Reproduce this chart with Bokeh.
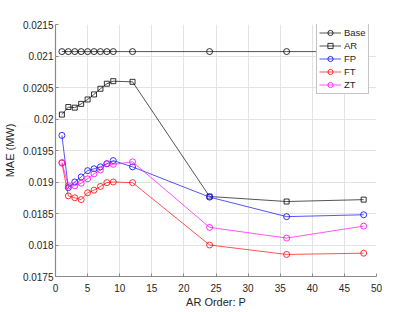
from bokeh.plotting import figure
from bokeh.models import FixedTicker, CustomJSTickFormatter, Range1d, Legend, LegendItem
from bokeh.embed import file_html
from bokeh.resources import INLINE

# ---- data ----
P = [1, 2, 3, 4, 5, 6, 7, 8, 9, 12, 24, 36, 48]
base = [0.02107, 0.02107, 0.02107, 0.02107, 0.02107, 0.02107, 0.02107,
        0.02107, 0.02107, 0.02107, 0.02107, 0.02107, 0.02107]
ar = [0.02007, 0.02019, 0.02018, 0.02024, 0.02031, 0.02039, 0.02048,
      0.02056, 0.0206, 0.02059, 0.01877, 0.01869, 0.01872]
fp = [0.01974, 0.01891, 0.0190, 0.01908, 0.01918, 0.01921, 0.01924,
      0.01929, 0.01934, 0.01924, 0.01876, 0.01845, 0.01848]
ft = [0.0193, 0.01878, 0.01875, 0.01872, 0.01883, 0.01887, 0.01893,
      0.01899, 0.0190, 0.01899, 0.0180, 0.01785, 0.01787]
zt = [0.01931, 0.01894, 0.01894, 0.01898, 0.01905, 0.01913, 0.01919,
      0.01929, 0.01928, 0.01932, 0.01828, 0.01811, 0.0183]

series_names = ["Base", "AR", "FP", "FT", "ZT"]
x_ticks = [0, 5, 10, 15, 20, 25, 30, 35, 40, 45, 50]
y_ticks = [0.0175, 0.018, 0.0185, 0.019, 0.0195, 0.02, 0.0205, 0.021, 0.0215]

FONT = "Liberation Sans"
TXT = "#262626"

p = figure(width=412, height=310, output_backend="svg", toolbar_location=None,
           x_range=Range1d(0, 50), y_range=Range1d(0.0175, 0.0215),
           min_border_left=54, min_border_right=36, min_border_top=24,
           min_border_bottom=32)
p.outline_line_color = None
p.background_fill_color = "white"

for ax in (p.xaxis[0], p.yaxis[0]):
    ax.axis_line_color = "#8a8a8a"
    ax.axis_line_width = 1.2
    ax.major_tick_line_color = "#8a8a8a"
    ax.major_tick_in = 3
    ax.major_tick_out = 0
    ax.minor_tick_line_color = None
    ax.major_label_text_font = FONT
    ax.major_label_text_font_size = "10px"
    ax.major_label_text_color = TXT
    ax.axis_label_text_font = FONT
    ax.axis_label_text_font_size = "11px"
    ax.axis_label_text_font_style = "normal"
    ax.axis_label_text_color = TXT

p.xaxis.ticker = FixedTicker(ticks=x_ticks)
p.yaxis.ticker = FixedTicker(ticks=y_ticks)
p.yaxis.formatter = CustomJSTickFormatter(code="return String(+tick.toFixed(5));")
p.xaxis.major_label_standoff = 7
p.yaxis.major_label_standoff = 2
p.xaxis.axis_label = "AR Order: P"
p.yaxis.axis_label = "MAE (MW)"
p.xaxis.axis_label_standoff = 1
p.yaxis.axis_label_standoff = 4

p.grid.grid_line_color = "#e3e3e3"
p.grid.grid_line_width = 1

items = []
specs = [
    (base, "black", "circle", 6),
    (ar, "black", "square", 5),
    (fp, "#0000ff", "circle", 6),
    (ft, "#ff0000", "circle", 6),
    (zt, "#ff00ff", "circle", 6),
]
for name, (ys, col, mk, sz) in zip(series_names, specs):
    ln = p.line(P, ys, line_color=col, line_width=0.9, line_alpha=0.75)
    sc = p.scatter(P, ys, marker=mk, size=sz, fill_color=None,
                   line_color=col, line_width=1, line_alpha=0.8)
    items.append(LegendItem(label=name, renderers=[ln, sc]))

legend = Legend(items=items, location=(261, 182), margin=0, padding=2,
                spacing=0, label_standoff=3, glyph_width=22, glyph_height=13,
                label_height=13, label_text_font=FONT, label_text_font_size="9.5px",
                label_text_color=TXT, border_line_color="#8a8a8a",
                border_line_width=1, background_fill_color="white",
                background_fill_alpha=1)
p.add_layout(legend, "center")

open("out.html", "w").write(file_html(p, INLINE))
